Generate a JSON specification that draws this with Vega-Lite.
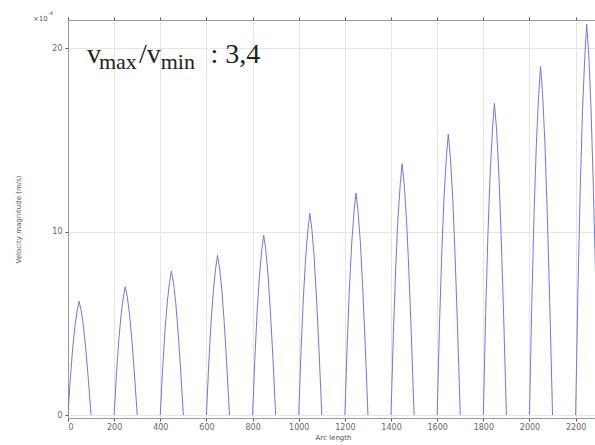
{
  "$schema": "https://vega.github.io/schema/vega-lite/v6.json",
  "width": 530,
  "height": 398,
  "autosize": {"type": "none"},
  "padding": {"left": 68, "top": 20, "right": 0, "bottom": 27},
  "background": "white",
  "config": {
    "view": {"stroke": "#9a9a9a", "strokeWidth": 1},
    "axis": {"labelFont": "DejaVu Sans", "titleFont": "DejaVu Sans", "labelFontSize": 8, "labelColor": "#666666", "titleFontSize": 7, "titleFontWeight": "normal", "titleColor": "#555555", "domainColor": "#9a9a9a", "tickColor": "#555555", "tickSize": 3, "gridColor": "#e6e6e6", "gridWidth": 1}
  },
  "datasets": {
    "curve": [
      {"h": 1, "s": 0, "v": 0}, {"h": 1, "s": 10, "v": 1.98}, {"h": 1, "s": 20, "v": 3.6}, {"h": 1, "s": 30, "v": 4.84}, {"h": 1, "s": 40, "v": 5.7}, {"h": 1, "s": 48, "v": 6.2}, {"h": 1, "s": 57, "v": 5.7}, {"h": 1, "s": 67, "v": 4.84}, {"h": 1, "s": 77, "v": 3.6}, {"h": 1, "s": 88, "v": 1.98}, {"h": 1, "s": 100, "v": 0},
      {"h": 2, "s": 200, "v": 0}, {"h": 2, "s": 210, "v": 2.24}, {"h": 2, "s": 220, "v": 4.06}, {"h": 2, "s": 230, "v": 5.46}, {"h": 2, "s": 240, "v": 6.44}, {"h": 2, "s": 248, "v": 7.0}, {"h": 2, "s": 257, "v": 6.44}, {"h": 2, "s": 267, "v": 5.46}, {"h": 2, "s": 277, "v": 4.06}, {"h": 2, "s": 288, "v": 2.24}, {"h": 2, "s": 300, "v": 0},
      {"h": 3, "s": 400, "v": 0}, {"h": 3, "s": 410, "v": 2.51}, {"h": 3, "s": 420, "v": 4.55}, {"h": 3, "s": 430, "v": 6.12}, {"h": 3, "s": 440, "v": 7.22}, {"h": 3, "s": 448, "v": 7.85}, {"h": 3, "s": 457, "v": 7.22}, {"h": 3, "s": 467, "v": 6.12}, {"h": 3, "s": 477, "v": 4.55}, {"h": 3, "s": 488, "v": 2.51}, {"h": 3, "s": 500, "v": 0},
      {"h": 4, "s": 600, "v": 0}, {"h": 4, "s": 610, "v": 2.78}, {"h": 4, "s": 620, "v": 5.05}, {"h": 4, "s": 630, "v": 6.79}, {"h": 4, "s": 640, "v": 8.0}, {"h": 4, "s": 648, "v": 8.7}, {"h": 4, "s": 657, "v": 8.0}, {"h": 4, "s": 667, "v": 6.79}, {"h": 4, "s": 677, "v": 5.05}, {"h": 4, "s": 688, "v": 2.78}, {"h": 4, "s": 700, "v": 0},
      {"h": 5, "s": 800, "v": 0}, {"h": 5, "s": 810, "v": 3.14}, {"h": 5, "s": 820, "v": 5.68}, {"h": 5, "s": 830, "v": 7.64}, {"h": 5, "s": 840, "v": 9.02}, {"h": 5, "s": 848, "v": 9.8}, {"h": 5, "s": 857, "v": 9.02}, {"h": 5, "s": 867, "v": 7.64}, {"h": 5, "s": 877, "v": 5.68}, {"h": 5, "s": 888, "v": 3.14}, {"h": 5, "s": 900, "v": 0},
      {"h": 6, "s": 1000, "v": 0}, {"h": 6, "s": 1010, "v": 3.52}, {"h": 6, "s": 1020, "v": 6.38}, {"h": 6, "s": 1030, "v": 8.58}, {"h": 6, "s": 1040, "v": 10.12}, {"h": 6, "s": 1048, "v": 11.0}, {"h": 6, "s": 1057, "v": 10.12}, {"h": 6, "s": 1067, "v": 8.58}, {"h": 6, "s": 1077, "v": 6.38}, {"h": 6, "s": 1088, "v": 3.52}, {"h": 6, "s": 1100, "v": 0},
      {"h": 7, "s": 1200, "v": 0}, {"h": 7, "s": 1210, "v": 3.87}, {"h": 7, "s": 1220, "v": 7.02}, {"h": 7, "s": 1230, "v": 9.44}, {"h": 7, "s": 1240, "v": 11.13}, {"h": 7, "s": 1248, "v": 12.1}, {"h": 7, "s": 1257, "v": 11.13}, {"h": 7, "s": 1267, "v": 9.44}, {"h": 7, "s": 1277, "v": 7.02}, {"h": 7, "s": 1288, "v": 3.87}, {"h": 7, "s": 1300, "v": 0},
      {"h": 8, "s": 1400, "v": 0}, {"h": 8, "s": 1410, "v": 4.38}, {"h": 8, "s": 1420, "v": 7.95}, {"h": 8, "s": 1430, "v": 10.69}, {"h": 8, "s": 1440, "v": 12.6}, {"h": 8, "s": 1448, "v": 13.7}, {"h": 8, "s": 1457, "v": 12.6}, {"h": 8, "s": 1467, "v": 10.69}, {"h": 8, "s": 1477, "v": 7.95}, {"h": 8, "s": 1488, "v": 4.38}, {"h": 8, "s": 1500, "v": 0},
      {"h": 9, "s": 1600, "v": 0}, {"h": 9, "s": 1610, "v": 4.9}, {"h": 9, "s": 1620, "v": 8.87}, {"h": 9, "s": 1630, "v": 11.93}, {"h": 9, "s": 1640, "v": 14.08}, {"h": 9, "s": 1648, "v": 15.3}, {"h": 9, "s": 1657, "v": 14.08}, {"h": 9, "s": 1667, "v": 11.93}, {"h": 9, "s": 1677, "v": 8.87}, {"h": 9, "s": 1688, "v": 4.9}, {"h": 9, "s": 1700, "v": 0},
      {"h": 10, "s": 1800, "v": 0}, {"h": 10, "s": 1810, "v": 5.44}, {"h": 10, "s": 1820, "v": 9.86}, {"h": 10, "s": 1830, "v": 13.26}, {"h": 10, "s": 1840, "v": 15.64}, {"h": 10, "s": 1848, "v": 17.0}, {"h": 10, "s": 1857, "v": 15.64}, {"h": 10, "s": 1867, "v": 13.26}, {"h": 10, "s": 1877, "v": 9.86}, {"h": 10, "s": 1888, "v": 5.44}, {"h": 10, "s": 1900, "v": 0},
      {"h": 11, "s": 2000, "v": 0}, {"h": 11, "s": 2010, "v": 6.08}, {"h": 11, "s": 2020, "v": 11.02}, {"h": 11, "s": 2030, "v": 14.82}, {"h": 11, "s": 2040, "v": 17.48}, {"h": 11, "s": 2048, "v": 19.0}, {"h": 11, "s": 2057, "v": 17.48}, {"h": 11, "s": 2067, "v": 14.82}, {"h": 11, "s": 2077, "v": 11.02}, {"h": 11, "s": 2088, "v": 6.08}, {"h": 11, "s": 2100, "v": 0},
      {"h": 12, "s": 2200, "v": 0}, {"h": 12, "s": 2210, "v": 6.82}, {"h": 12, "s": 2220, "v": 12.35}, {"h": 12, "s": 2230, "v": 16.61}, {"h": 12, "s": 2240, "v": 19.6}, {"h": 12, "s": 2248, "v": 21.3}, {"h": 12, "s": 2257, "v": 19.6}, {"h": 12, "s": 2267, "v": 16.61}, {"h": 12, "s": 2277, "v": 12.35}, {"h": 12, "s": 2288, "v": 6.82}, {"h": 12, "s": 2300, "v": 0}
    ],
    "bigText": [
      {"s": 82, "v": 19.18, "t": "v"},
      {"s": 308, "v": 19.18, "t": "/v"},
      {"s": 618, "v": 19.18, "t": ": 3,4"}
    ],
    "subText": [
      {"s": 134, "v": 18.86, "t": "max"},
      {"s": 402, "v": 18.86, "t": "min"}
    ],
    "expText": [
      {"s": -152, "v": 21.47, "t": "×10"}
    ],
    "expSup": [
      {"s": -87, "v": 21.8, "t": "-4"}
    ]
  },
  "resolve": {"axis": {"x": "independent", "y": "independent"}},
  "layer": [
    {
      "data": {"name": "curve"},
      "mark": {"type": "line", "color": "#7474ec", "strokeWidth": 1, "clip": true},
      "encoding": {
        "x": {"field": "s", "type": "quantitative", "scale": {"domain": [0, 2297], "nice": false, "zero": false},
          "axis": {"orient": "bottom", "values": [0, 200, 400, 600, 800, 1000, 1200, 1400, 1600, 1800, 2000, 2200], "format": "d", "title": "Arc length", "titlePadding": 2, "labelPadding": 2, "grid": true}},
        "y": {"field": "v", "type": "quantitative", "scale": {"domain": [-0.16, 21.53], "nice": false, "zero": false},
          "axis": {"orient": "left", "values": [0, 10, 20], "format": "d", "title": "Velocity magnitude (m/s)", "titlePadding": 30, "labelPadding": 3, "grid": true}},
        "detail": {"field": "h", "type": "nominal"}
      }
    },
    {
      "data": {"name": "bigText"},
      "mark": {"type": "text", "font": "Liberation Serif", "fontSize": 28, "align": "left", "baseline": "alphabetic", "color": "#222222"},
      "encoding": {
        "x": {"field": "s", "type": "quantitative", "axis": {"orient": "top", "labels": false, "title": null, "grid": false, "domain": false, "values": [0, 200, 400, 600, 800, 1000, 1200, 1400, 1600, 1800, 2000, 2200], "tickSize": 3}},
        "y": {"field": "v", "type": "quantitative", "axis": null},
        "text": {"field": "t"}
      }
    },
    {
      "data": {"name": "subText"},
      "mark": {"type": "text", "font": "Liberation Serif", "fontSize": 22, "align": "left", "baseline": "alphabetic", "color": "#222222"},
      "encoding": {
        "x": {"field": "s", "type": "quantitative", "axis": null},
        "y": {"field": "v", "type": "quantitative", "axis": null},
        "text": {"field": "t"}
      }
    },
    {
      "data": {"name": "expText"},
      "mark": {"type": "text", "font": "DejaVu Sans", "fontSize": 7, "align": "left", "baseline": "alphabetic", "color": "#555555"},
      "encoding": {
        "x": {"field": "s", "type": "quantitative", "axis": null},
        "y": {"field": "v", "type": "quantitative", "axis": null},
        "text": {"field": "t"}
      }
    },
    {
      "data": {"name": "expSup"},
      "mark": {"type": "text", "font": "DejaVu Sans", "fontSize": 5, "align": "left", "baseline": "alphabetic", "color": "#555555"},
      "encoding": {
        "x": {"field": "s", "type": "quantitative", "axis": null},
        "y": {"field": "v", "type": "quantitative", "axis": null},
        "text": {"field": "t"}
      }
    }
  ]
}
